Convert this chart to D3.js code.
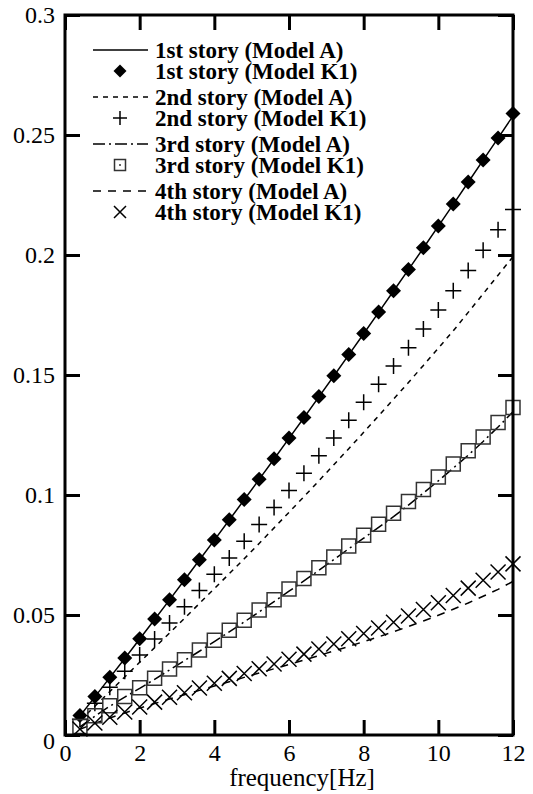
<!DOCTYPE html>
<html>
<head>
<meta charset="utf-8">
<script src="https://cdn.jsdelivr.net/npm/d3@7"></script>
<style>
  body { margin: 0; background: #fff; }
  svg { display: block; }
</style>
</head>
<body>
<script>
// frequency points (Hz)
const freq = [0.4, 0.8, 1.2, 1.6, 2.0, 2.4, 2.8, 3.2, 3.6, 4.0, 4.4, 4.8, 5.2, 5.6, 6.0,
              6.4, 6.8, 7.2, 7.6, 8.0, 8.4, 8.8, 9.2, 9.6, 10.0, 10.4, 10.8, 11.2, 11.6, 12.0];

const story1A  = [0.0079, 0.0159, 0.0239, 0.0319, 0.0400, 0.0481, 0.0563, 0.0646, 0.0729, 0.0812, 0.0896, 0.0980, 0.1065, 0.1150, 0.1236,
                  0.1322, 0.1409, 0.1496, 0.1584, 0.1672, 0.1761, 0.1850, 0.1939, 0.2029, 0.2120, 0.2211, 0.2303, 0.2395, 0.2487, 0.2580];
const story1K1 = [0.0081, 0.0160, 0.0241, 0.0321, 0.0401, 0.0483, 0.0564, 0.0647, 0.0730, 0.0813, 0.0897, 0.0981, 0.1066, 0.1151, 0.1237,
                  0.1323, 0.1410, 0.1497, 0.1585, 0.1673, 0.1762, 0.1851, 0.1940, 0.2030, 0.2121, 0.2212, 0.2304, 0.2396, 0.2488, 0.2590];
const story2A  = [0.0060, 0.0120, 0.0181, 0.0242, 0.0303, 0.0364, 0.0425, 0.0486, 0.0548, 0.0610, 0.0672, 0.0734, 0.0798, 0.0863, 0.0928,
                  0.0993, 0.1059, 0.1126, 0.1193, 0.1261, 0.1330, 0.1399, 0.1469, 0.1540, 0.1612, 0.1684, 0.1761, 0.1838, 0.1916, 0.1993];
const story2K1 = [0.0066, 0.0132, 0.0199, 0.0266, 0.0333, 0.0400, 0.0467, 0.0534, 0.0602, 0.0670, 0.0738, 0.0807, 0.0877, 0.0948, 0.1019,
                  0.1091, 0.1164, 0.1237, 0.1311, 0.1386, 0.1461, 0.1537, 0.1614, 0.1692, 0.1771, 0.1851, 0.1935, 0.2020, 0.2105, 0.2190];
const story3A  = [0.0034, 0.0078, 0.0120, 0.0158, 0.0194, 0.0232, 0.0271, 0.0310, 0.0349, 0.0389, 0.0430, 0.0471, 0.0513, 0.0556, 0.0599,
                  0.0642, 0.0686, 0.0731, 0.0776, 0.0820, 0.0865, 0.0910, 0.0958, 0.1008, 0.1059, 0.1112, 0.1166, 0.1223, 0.1283, 0.1347];
const story3K1 = [0.0035, 0.0080, 0.0122, 0.0160, 0.0197, 0.0236, 0.0275, 0.0314, 0.0354, 0.0395, 0.0436, 0.0478, 0.0521, 0.0564, 0.0608,
                  0.0652, 0.0697, 0.0742, 0.0787, 0.0832, 0.0878, 0.0924, 0.0973, 0.1023, 0.1075, 0.1129, 0.1184, 0.1242, 0.1302, 0.1365];
const story4A  = [0.0024, 0.0048, 0.0071, 0.0092, 0.0112, 0.0131, 0.0150, 0.0168, 0.0186, 0.0204, 0.0222, 0.0240, 0.0258, 0.0276, 0.0294,
                  0.0312, 0.0331, 0.0350, 0.0369, 0.0389, 0.0409, 0.0430, 0.0452, 0.0475, 0.0499, 0.0524, 0.0550, 0.0578, 0.0607, 0.0640];
const story4K1 = [0.0025, 0.0050, 0.0074, 0.0096, 0.0117, 0.0137, 0.0157, 0.0176, 0.0196, 0.0216, 0.0236, 0.0256, 0.0276, 0.0296, 0.0316,
                  0.0337, 0.0358, 0.0379, 0.0401, 0.0423, 0.0446, 0.0470, 0.0496, 0.0523, 0.0551, 0.0581, 0.0612, 0.0645, 0.0679, 0.0713];

const xTicks = [0, 2, 4, 6, 8, 10, 12];
const yTicks = [0, 0.05, 0.1, 0.15, 0.2, 0.25, 0.3];
const legendLabels = ["1st story (Model A)", "1st story (Model K1)", "2nd story (Model A)", "2nd story (Model K1)",
                      "3rd story (Model A)", "3rd story (Model K1)", "4th story (Model A)", "4th story (Model K1)"];

const width = 533, height = 794;
const mLeft = 65, mRight = 513, mTop = 15, mBottom = 735;
const font = "'Liberation Serif', 'Times New Roman', serif";

const x = d3.scaleLinear().domain([0, 12]).range([mLeft, mRight]);
const y = d3.scaleLinear().domain([0, 0.3]).range([mBottom, mTop]);

const svg = d3.select("body").append("svg")
    .attr("width", width)
    .attr("height", height);

// marker shapes
function diamond(r) { return `M0,${-r}L${r},0L0,${r}L${-r},0Z`; }
function square(r) { return `M${-r},${-r}H${r}V${r}H${-r}Z`; }
function plus(r) { return `M${-r},0H${r}M0,${-r}V${r}`; }
function cross(r) { return `M${-r},${-r}L${r},${r}M${-r},${r}L${r},${-r}`; }

const lineSeries = [
    {vals: story1A, dash: null},
    {vals: story2A, dash: "5,5"},
    {vals: story3A, dash: "12,4,2,4"},
    {vals: story4A, dash: "8,7"}
];
const markSeries = [
    {vals: story1K1, shape: diamond, r: 7.5, fill: "#000", stroke: "none", sw: 0},
    {vals: story2K1, shape: plus, r: 8, fill: "none", stroke: "#000", sw: 1.5},
    {vals: story3K1, shape: square, r: 7, fill: "none", stroke: "#333", sw: 1.5},
    {vals: story4K1, shape: cross, r: 7.5, fill: "none", stroke: "#000", sw: 1.5}
];

const line = d3.line().x(d => x(d[0])).y(d => y(d[1]));

// model A lines
svg.append("g").selectAll("path")
    .data(lineSeries)
    .enter().append("path")
    .attr("d", s => line(freq.map((f, i) => [f, s.vals[i]])))
    .attr("fill", "none")
    .attr("stroke", "#000")
    .attr("stroke-width", 1.5)
    .attr("stroke-dasharray", s => s.dash);

// model K1 markers
markSeries.forEach(s => {
    svg.append("g").selectAll("path")
        .data(freq.map((f, i) => [f, s.vals[i]]))
        .enter().append("path")
        .attr("transform", d => `translate(${x(d[0])},${y(d[1])})`)
        .attr("d", s.shape(s.r))
        .attr("fill", s.fill)
        .attr("stroke", s.stroke)
        .attr("stroke-width", s.sw);
});

// axes with inward ticks
const axisStyle = g => {
    g.select(".domain").remove();
    g.selectAll(".tick line").attr("stroke", "#000").attr("stroke-width", 3);
    g.selectAll("text").attr("font-family", font).attr("font-size", 24).attr("fill", "#000");
};

svg.append("g").attr("transform", `translate(0,${mBottom})`)
    .call(d3.axisBottom(x).tickValues(xTicks).tickSize(-15).tickPadding(9).tickFormat(d3.format("d")))
    .call(axisStyle);
svg.append("g").attr("transform", `translate(0,${mTop})`)
    .call(d3.axisTop(x).tickValues(xTicks).tickSize(-15).tickFormat(""))
    .call(axisStyle);
svg.append("g").attr("transform", `translate(${mLeft},0)`)
    .call(d3.axisLeft(y).tickValues(yTicks).tickSize(-15).tickPadding(10).tickFormat(d => d === 0 ? "0" : String(+d.toFixed(2))))
    .call(axisStyle)
    .call(g => g.selectAll(".tick text").filter(d => d === 0).attr("dy", "0.55em"));
svg.append("g").attr("transform", `translate(${mRight},0)`)
    .call(d3.axisRight(y).tickValues(yTicks).tickSize(-15).tickFormat(""))
    .call(axisStyle);

svg.append("rect")
    .attr("x", mLeft).attr("y", mTop)
    .attr("width", mRight - mLeft).attr("height", mBottom - mTop)
    .attr("fill", "none").attr("stroke", "#000").attr("stroke-width", 3);

svg.append("text")
    .attr("x", 302)
    .attr("y", 786)
    .attr("text-anchor", "middle")
    .attr("font-family", font)
    .attr("font-size", 25)
    .text("frequency[Hz]");

// legend
const legend = svg.append("g");
const rowY = [50, 71, 97, 118, 144, 165, 191, 212];
legendLabels.forEach((label, i) => {
    const yy = rowY[i];
    const k = Math.floor(i / 2);
    if (i % 2 === 0) {
        legend.append("line")
            .attr("x1", 93).attr("x2", 148).attr("y1", yy).attr("y2", yy)
            .attr("stroke", "#000").attr("stroke-width", 1.5)
            .attr("stroke-dasharray", lineSeries[k].dash);
    } else {
        const s = markSeries[k];
        const sizes = [6.5, 7, 5.5, 6];
        legend.append("path")
            .attr("transform", `translate(120,${yy})`)
            .attr("d", s.shape(sizes[k]))
            .attr("fill", s.fill)
            .attr("stroke", s.stroke)
            .attr("stroke-width", s.sw);
        if (k === 2) {
            legend.append("circle").attr("cx", 120).attr("cy", yy).attr("r", 1).attr("fill", "#333");
        }
    }
    legend.append("text")
        .attr("x", 155).attr("y", yy)
        .attr("dy", "0.35em")
        .attr("font-family", font)
        .attr("font-size", 23)
        .attr("font-weight", "bold")
        .text(label);
});
</script>
</body>
</html>
